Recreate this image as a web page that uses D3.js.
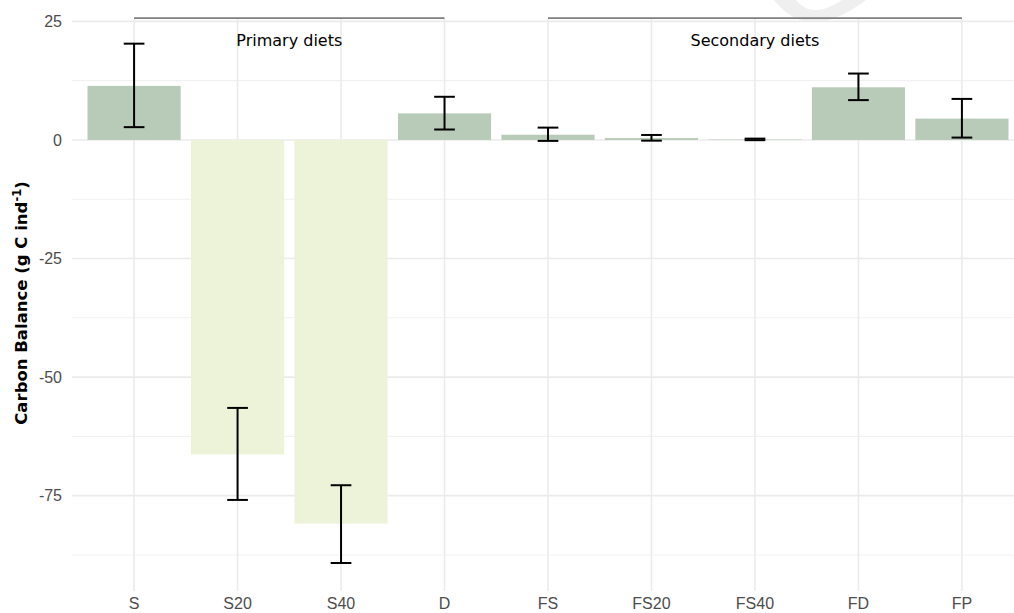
<!DOCTYPE html>
<html>
<head>
<meta charset="utf-8">
<script src="https://cdn.jsdelivr.net/npm/d3@7"></script>
<style>
  html, body { margin: 0; padding: 0; background: #ffffff; }
  svg { display: block; }
</style>
</head>
<body>
<svg id="chart" width="1014" height="613"></svg>
<script>
// ---- data ----
const categories = ["S", "S20", "S40", "D", "FS", "FS20", "FS40", "FD", "FP"];
const values     = [11.4, -66.3, -80.9, 5.6, 1.1, 0.4, 0.1, 11.1, 4.5];
const errLow     = [2.7, -75.9, -89.2, 2.2, -0.2, -0.15, -0.05, 8.4, 0.5];
const errHigh    = [20.3, -56.5, -72.8, 9.1, 2.6, 1.05, 0.28, 14.0, 8.65];
const yTicks     = [-75, -50, -25, 0, 25];
const yMinor     = [-87.5, -62.5, -37.5, -12.5, 12.5];
const groupLabels = ["Primary diets", "Secondary diets"];
const groupStart  = ["S", "FS"];
const groupEnd    = ["D", "FP"];
const yTitle = "Carbon Balance (g C ind";
const yTitleSup = "-1";

// ---- layout ----
const W = 1014, H = 613;
const panel = { left: 72, right: 1024, top: 19, bottom: 591 };
const svg = d3.select("#chart");

const x = d3.scalePoint().domain(categories).range([panel.left, panel.right]).padding(0.6);
const y = d3.scaleLinear().domain([-95.1, 25.5]).range([panel.bottom, panel.top]);
const step = x.step();
const barW = step * 0.9;
const capW = step * 0.2;

const posColor = "#b8cab8", negColor = "#edf3d8";

// faint watermark fragment
svg.append("path")
  .attr("d", "M774,0 Q808,44 866,0 L842,0 Q812,20 796,0 Z")
  .attr("fill", "#efefef");

// gridlines
const g = svg.append("g");
g.selectAll("line.minor").data(yMinor).join("line")
  .attr("x1", panel.left).attr("x2", W)
  .attr("y1", d => y(d)).attr("y2", d => y(d))
  .attr("stroke", "#f1f1f1").attr("stroke-width", 1.1);
g.selectAll("line.major").data(yTicks).join("line")
  .attr("x1", panel.left).attr("x2", W)
  .attr("y1", d => y(d)).attr("y2", d => y(d))
  .attr("stroke", "#ebebeb").attr("stroke-width", 1.6);
g.selectAll("line.vert").data(categories).join("line")
  .attr("x1", d => x(d)).attr("x2", d => x(d))
  .attr("y1", panel.top).attr("y2", panel.bottom)
  .attr("stroke", "#ebebeb").attr("stroke-width", 1.6);

// bars
svg.append("g").selectAll("rect").data(categories).join("rect")
  .attr("x", d => x(d) - barW / 2)
  .attr("width", barW)
  .attr("y", (d, i) => y(Math.max(0, values[i])))
  .attr("height", (d, i) => Math.abs(y(values[i]) - y(0)))
  .attr("fill", (d, i) => values[i] >= 0 ? posColor : negColor);

// error bars
const eb = svg.append("g").attr("stroke", "#000").attr("stroke-width", 2).attr("fill", "none");
categories.forEach((c, i) => {
  const cx = x(c);
  eb.append("line").attr("x1", cx).attr("x2", cx).attr("y1", y(errLow[i])).attr("y2", y(errHigh[i]));
  eb.append("line").attr("x1", cx - capW / 2).attr("x2", cx + capW / 2).attr("y1", y(errLow[i])).attr("y2", y(errLow[i]));
  eb.append("line").attr("x1", cx - capW / 2).attr("x2", cx + capW / 2).attr("y1", y(errHigh[i])).attr("y2", y(errHigh[i]));
});

// group brackets
groupLabels.forEach((lab, i) => {
  const x1 = x(groupStart[i]), x2 = x(groupEnd[i]);
  svg.append("line").attr("x1", x1).attr("x2", x2).attr("y1", 18.2).attr("y2", 18.2)
    .attr("stroke", "#7f7f7f").attr("stroke-width", 1.8);
  svg.append("text").attr("x", (x1 + x2) / 2).attr("y", 45.5)
    .attr("text-anchor", "middle")
    .attr("font-family", "DejaVu Sans").attr("font-size", 16).attr("fill", "#000")
    .text(lab);
});

// y axis labels
svg.append("g").selectAll("text").data(yTicks).join("text")
  .attr("x", 62).attr("y", d => y(d)).attr("dy", "0.36em")
  .attr("text-anchor", "end")
  .attr("font-family", "Liberation Sans, Arial, sans-serif").attr("font-size", 16)
  .attr("fill", "#4d4d4d")
  .text(d => d);

// x axis labels
svg.append("g").selectAll("text").data(categories).join("text")
  .attr("x", d => x(d)).attr("y", 609)
  .attr("text-anchor", "middle")
  .attr("font-family", "Liberation Sans, Arial, sans-serif").attr("font-size", 16)
  .attr("fill", "#4d4d4d")
  .text(d => d);

// y title
const yt = svg.append("text")
  .attr("transform", `translate(27,${(panel.top + panel.bottom) / 2 - 2}) rotate(-90)`)
  .attr("text-anchor", "middle")
  .attr("font-family", "DejaVu Sans").attr("font-weight", "bold").attr("font-size", 16.5)
  .attr("fill", "#000");
yt.append("tspan").text(yTitle);
yt.append("tspan").attr("font-size", 11.5).attr("dy", -6).text(yTitleSup);
yt.append("tspan").attr("dy", 6).text(")");
</script>
</body>
</html>
